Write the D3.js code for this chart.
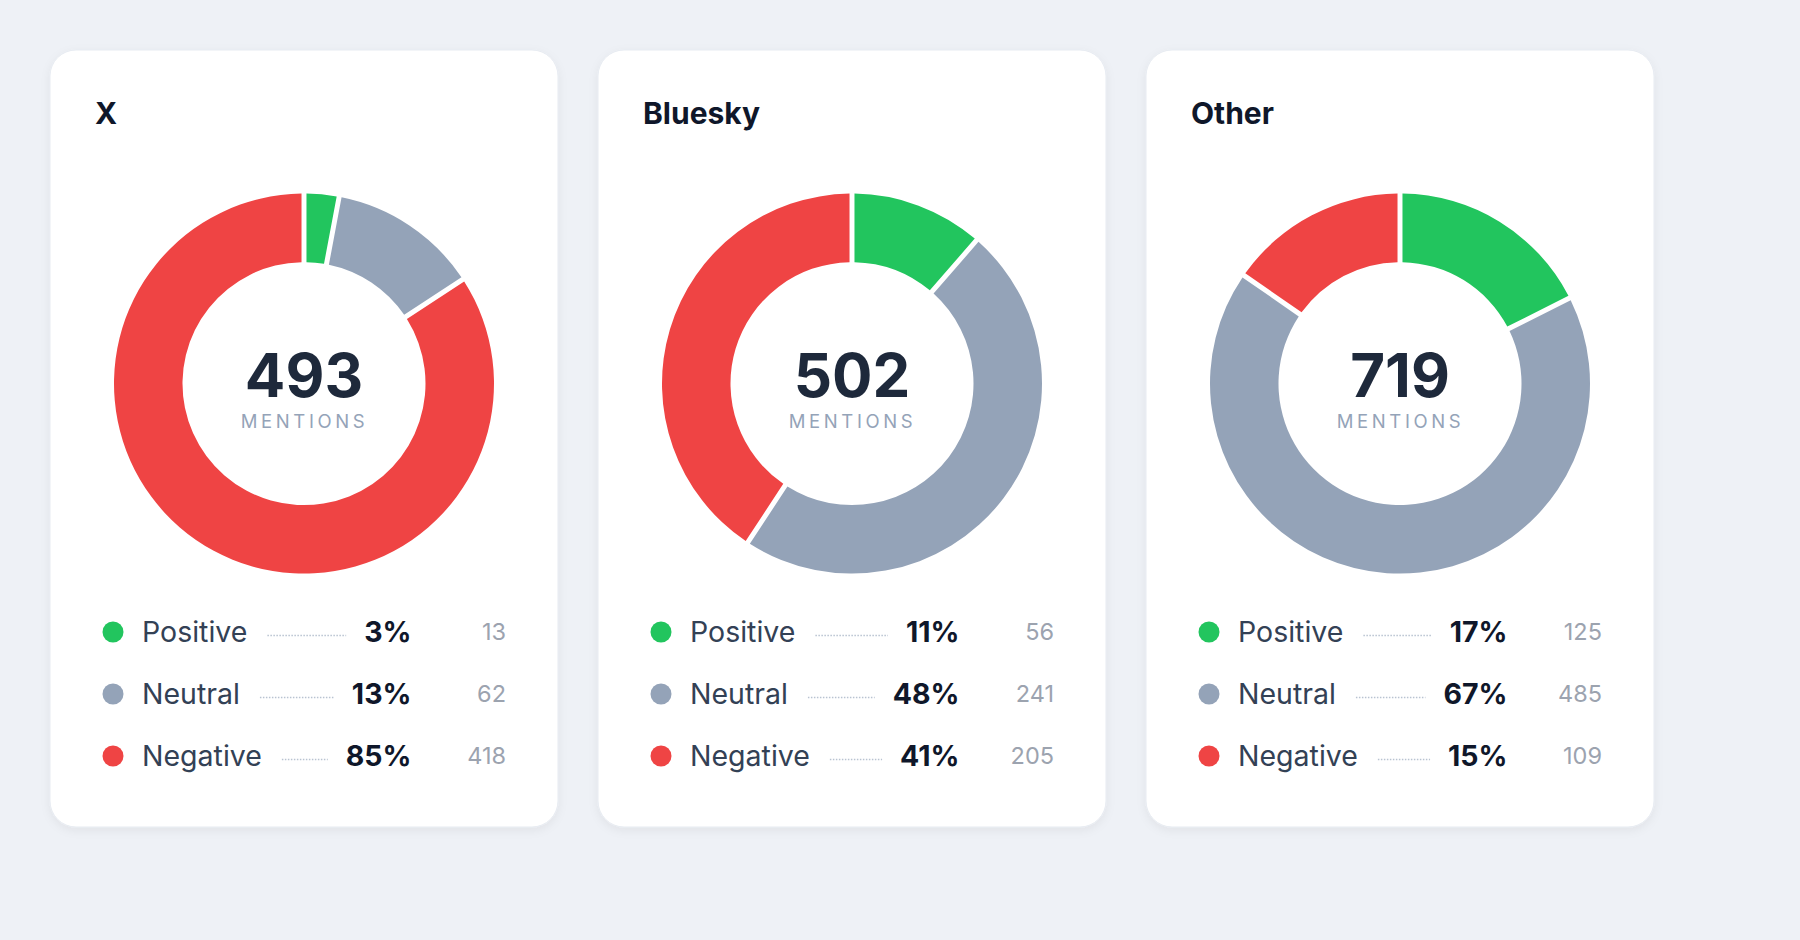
<!DOCTYPE html>
<html>
<head>
<meta charset="utf-8">
<script src="https://cdn.jsdelivr.net/npm/d3@7/dist/d3.min.js"></script>
<style>
  html, body { margin: 0; padding: 0; background: #eef1f6; }
  svg { display: block; font-family: Inter, "Noto Sans", sans-serif; }
</style>
</head>
<body>
<svg id="chart" width="1800" height="940"></svg>
<script>
// ---- data ----
const platforms = ["X", "Bluesky", "Other"];
const sentiments = ["Positive", "Neutral", "Negative"];
const positiveCounts = [13, 56, 125];
const neutralCounts = [62, 241, 485];
const negativeCounts = [418, 205, 109];
const centerLabel = "MENTIONS";
const sentimentColors = ["#22c55e", "#94a3b8", "#ef4444"];

// ---- layout ----
const cardW = 508, cardH = 777, cardTop = 50, cardLeft = 50, cardGap = 40;
const outerR = 190, innerR = 121.5;

const svg = d3.select("#chart");

const defs = svg.append("defs");
const f = defs.append("filter").attr("id", "shadow")
  .attr("x", "-10%").attr("y", "-10%").attr("width", "120%").attr("height", "120%");
f.append("feDropShadow").attr("dx", 0).attr("dy", 3).attr("stdDeviation", 5)
  .attr("flood-color", "#0f172a").attr("flood-opacity", 0.06);

const xCard = d3.scaleBand()
  .domain(platforms)
  .range([cardLeft, cardLeft + platforms.length * cardW + (platforms.length - 1) * cardGap])
  .paddingInner(cardGap / (cardW + cardGap))
  .paddingOuter(0);

const color = d3.scaleOrdinal().domain(sentiments).range(sentimentColors);
const pie = d3.pie().sort(null).value(d => d.value).padAngle(0.022);
const arc = d3.arc().innerRadius(innerR).outerRadius(outerR);

platforms.forEach((p, i) => {
  const values = [positiveCounts[i], neutralCounts[i], negativeCounts[i]];
  const total = d3.sum(values);
  const rows = sentiments.map((s, k) => ({ name: s, value: values[k] }));

  const g = svg.append("g").attr("transform", `translate(${xCard(p)},${cardTop})`);

  g.append("rect")
    .attr("width", xCard.bandwidth()).attr("height", cardH)
    .attr("rx", 26).attr("ry", 26)
    .attr("fill", "#ffffff")
    .attr("stroke", "#e7ebf1").attr("stroke-width", 1)
    .attr("filter", "url(#shadow)");

  g.append("text")
    .attr("x", 45).attr("y", 74)
    .attr("font-size", 30).attr("font-weight", 700)
    .attr("fill", "#0f172a")
    .text(p);

  const cx = xCard.bandwidth() / 2, cy = 333.6;
  const donut = g.append("g").attr("transform", `translate(${cx},${cy})`);
  donut.selectAll("path")
    .data(pie(rows))
    .join("path")
    .attr("d", arc)
    .attr("fill", d => color(d.data.name));

  donut.append("text")
    .attr("x", 0).attr("y", 13.5)
    .attr("text-anchor", "middle")
    .attr("font-size", 60).attr("font-weight", 700)
    .attr("fill", "#1e293b")
    .text(total);

  donut.append("text")
    .attr("x", 0.5).attr("y", 44)
    .attr("text-anchor", "middle")
    .attr("font-size", 18.5).attr("font-weight", 400)
    .attr("letter-spacing", "3.6px")
    .attr("fill", "#94a3b8")
    .text(centerLabel);

  // legend
  const yRow = d3.scalePoint().domain(sentiments).range([582, 706]);
  rows.forEach(r => {
    const y = yRow(r.name);
    const row = g.append("g").attr("transform", `translate(0,${y})`);
    row.append("circle").attr("cx", 63).attr("cy", 0).attr("r", 10.5)
      .attr("fill", color(r.name));
    const lab = row.append("text")
      .attr("x", 92).attr("y", 0).attr("dy", "0.36em")
      .attr("font-size", 28.5).attr("fill", "#334155")
      .text(r.name);
    const pct = row.append("text")
      .attr("x", 361.5).attr("y", 0).attr("dy", "0.36em")
      .attr("text-anchor", "end")
      .attr("font-size", 28.5).attr("font-weight", 700).attr("fill", "#0f172a")
      .text(Math.round(r.value / total * 100) + "%");
    row.append("text")
      .attr("x", 456).attr("y", 0).attr("dy", "0.36em")
      .attr("text-anchor", "end")
      .attr("font-size", 23.5).attr("fill", "#9ca3af")
      .text(r.value);
    const lb = lab.node().getBBox();
    const labEnd = lb.x + lb.width;
    const pctStart = pct.node().getBBox().x;
    row.append("line")
      .attr("x1", labEnd + 20).attr("x2", pctStart - 18)
      .attr("y1", 3.5).attr("y2", 3.5)
      .attr("stroke", "#b9c3d1").attr("stroke-width", 1.5)
      .attr("stroke-dasharray", "1.5 1.5");
  });
});
</script>
</body>
</html>
